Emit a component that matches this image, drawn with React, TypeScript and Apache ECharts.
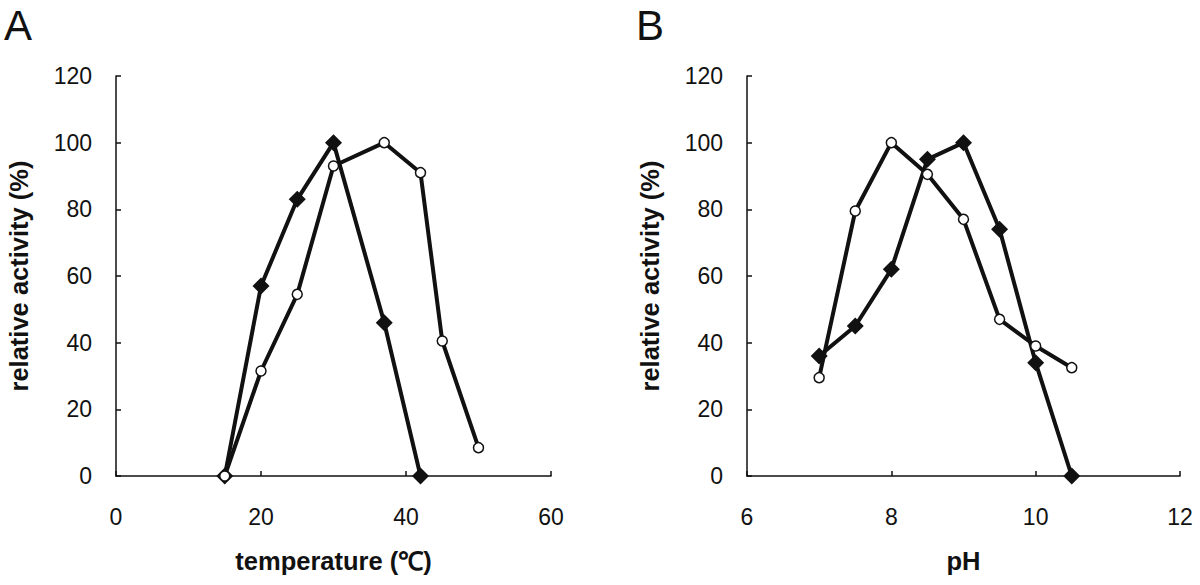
import React, { useEffect, useRef } from "react";
import * as echarts from "echarts";

const tempFilledX = [15, 20, 25, 30, 37, 42];
const tempFilledY = [0, 57, 83, 100, 46, 0];
const tempOpenX = [15, 20, 25, 30, 37, 42, 45, 50];
const tempOpenY = [0, 31.5, 54.5, 93, 100, 91, 40.5, 8.5];

const phFilledX = [7, 7.5, 8, 8.5, 9, 9.5, 10, 10.5];
const phFilledY = [36, 45, 62, 95, 100, 74, 34, 0];
const phOpenX = [7, 7.5, 8, 8.5, 9, 9.5, 10, 10.5];
const phOpenY = [29.5, 79.5, 100, 90.5, 77, 47, 39, 32.5];

const panelLabels = ["A", "B"];
const xTitles = ["temperature (℃)", "pH"];
const yTitle = "relative activity (%)";

const FONT = '"Liberation Sans", Arial, Helvetica, sans-serif';
const INK = "#111";

function pairs(xs: number[], ys: number[]) {
  return xs.map((x, i) => [x, ys[i]]);
}

export default function App() {
  const ref = useRef<HTMLDivElement>(null);
  useEffect(() => {
    if (!ref.current) return;
    const chart = echarts.init(ref.current, undefined, { renderer: "svg" });
    const axisCommon = {
      axisLine: { show: true, lineStyle: { color: INK, width: 1.5 } },
      axisTick: { show: true, inside: true, length: 5, lineStyle: { color: INK, width: 1.5 } },
      splitLine: { show: false },
      axisLabel: { color: INK, fontSize: 23, fontFamily: FONT },
      nameTextStyle: { color: INK, fontSize: 25.5, fontWeight: "bold", fontFamily: FONT },
    };
    const xAx = (gi: number, min: number, max: number, interval: number, name: string) => ({
      ...axisCommon,
      type: "value",
      gridIndex: gi,
      min,
      max,
      interval,
      name,
      nameLocation: "middle",
      nameGap: 72,
      axisLabel: { ...axisCommon.axisLabel, margin: 29 },
    });
    const yAx = (gi: number) => ({
      ...axisCommon,
      type: "value",
      gridIndex: gi,
      min: 0,
      max: 120,
      interval: 20,
      name: yTitle,
      nameLocation: "middle",
      nameRotate: 90,
      nameGap: 84,
      axisLabel: { ...axisCommon.axisLabel, margin: 24 },
    });
    const filled = (idx: number, data: number[][]) => ({
      type: "line",
      xAxisIndex: idx,
      yAxisIndex: idx,
      data,
      symbol: "diamond",
      symbolSize: 17,
      lineStyle: { color: INK, width: 4 },
      itemStyle: { color: INK, borderColor: INK, borderWidth: 0 },
      z: 3,
    });
    const open = (idx: number, data: number[][]) => ({
      type: "line",
      xAxisIndex: idx,
      yAxisIndex: idx,
      data,
      symbol: "circle",
      symbolSize: 10,
      showAllSymbol: true,
      lineStyle: { color: INK, width: 4 },
      itemStyle: { color: "#fff", borderColor: INK, borderWidth: 1.5 },
      z: 4,
    });
    chart.setOption({
      animation: false,
      backgroundColor: "#fff",
      textStyle: { fontFamily: FONT },
      grid: [
        { left: 116, right: 1200 - 551, top: 76, bottom: 585 - 476 },
        { left: 747, right: 1200 - 1180, top: 76, bottom: 585 - 476 },
      ],
      xAxis: [xAx(0, 0, 60, 20, xTitles[0]), xAx(1, 6, 12, 2, xTitles[1])],
      yAxis: [yAx(0), yAx(1)],
      series: [
        filled(0, pairs(tempFilledX, tempFilledY)),
        open(0, pairs(tempOpenX, tempOpenY)),
        filled(1, pairs(phFilledX, phFilledY)),
        open(1, pairs(phOpenX, phOpenY)),
      ],
      graphic: [
        { type: "text", left: 4, top: 4, style: { text: panelLabels[0], fontSize: 42, fontFamily: FONT, fill: INK } },
        { type: "text", left: 636, top: 4, style: { text: panelLabels[1], fontSize: 42, fontFamily: FONT, fill: INK } },
      ],
    });
    return () => chart.dispose();
  }, []);
  return <div ref={ref} style={{ width: 1200, height: 585, position: "absolute", left: 0, top: 0 }} />;
}
